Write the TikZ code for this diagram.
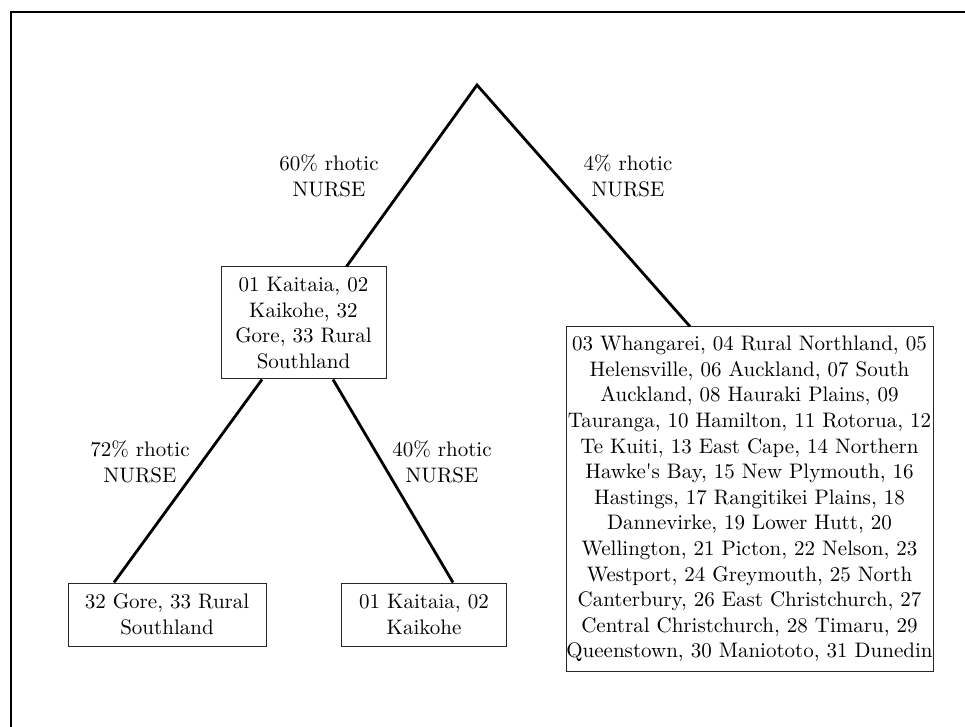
\documentclass[tikz,border=0pt]{standalone}
\usepackage{fontspec}
\usetikzlibrary{calc}

\begin{document}
\begin{tikzpicture}[
  x=0.5pt, y=-0.5pt,
  txt/.style={align=center, inner sep=0pt,
              font=\fontsize{10.5}{12.8}\selectfont},
  group/.style={txt, draw=black!85, line width=0.5pt},
  branch/.style={line width=1.4pt, line join=miter}
]
  \useasboundingbox (0,0) rectangle (965,727);
  \draw[line width=1pt] (11,727) -- (11,12) -- (965,12);
  % tree
  \coordinate (root) at (477,85);
  \node[group, minimum width=82.5pt, minimum height=56pt] (mid) at (303.5,323)
    {01 Kaitaia, 02\\Kaikohe, 32\\Gore, 33 Rural\\Southland};
  \node[group, minimum width=183.5pt, minimum height=172pt] (rest) at (749.5,499)
    {03 Whangarei, 04 Rural Northland, 05\\
     Helensville, 06 Auckland, 07 South\\
     Auckland, 08 Hauraki Plains, 09\\
     Tauranga, 10 Hamilton, 11 Rotorua, 12\\
     Te Kuiti, 13 East Cape, 14 Northern\\
     Hawke\textquotesingle s Bay, 15 New Plymouth, 16\\
     Hastings, 17 Rangitikei Plains, 18\\
     Dannevirke, 19 Lower Hutt, 20\\
     Wellington, 21 Picton, 22 Nelson, 23\\
     Westport, 24 Greymouth, 25 North\\
     Canterbury, 26 East Christchurch, 27\\
     Central Christchurch, 28 Timaru, 29\\
     Queenstown, 30 Maniototo, 31 Dunedin};
  \node[group, minimum width=99pt, minimum height=31.5pt] (south) at (167,614.5)
    {32 Gore, 33 Rural\\Southland};
  \node[group, minimum width=82.5pt, minimum height=31.5pt] (north) at (424,614.5)
    {01 Kaitaia, 02\\Kaikohe};
  \draw[branch] ($(mid.north)+(43,0)$) -- (root) -- ($(rest.north)+(-59.5,0)$);
  \draw[branch] ($(mid.south)+(-41.5,0)$) -- ($(south.north)+(-53,0)$);
  \draw[branch] ($(mid.south)+(29.5,0)$) -- ($(north.north)+(29,0)$);
  % labels
  \node[txt] (l60) at (329,176) {60\% rhotic\\NURSE};
  \node[txt] (l4) at (628,176) {4\% rhotic\\NURSE};
  \node[txt] (l72) at (140,462) {72\% rhotic\\NURSE};
  \node[txt] (l40) at (442,462) {40\% rhotic\\NURSE};
\end{tikzpicture}
\end{document}
